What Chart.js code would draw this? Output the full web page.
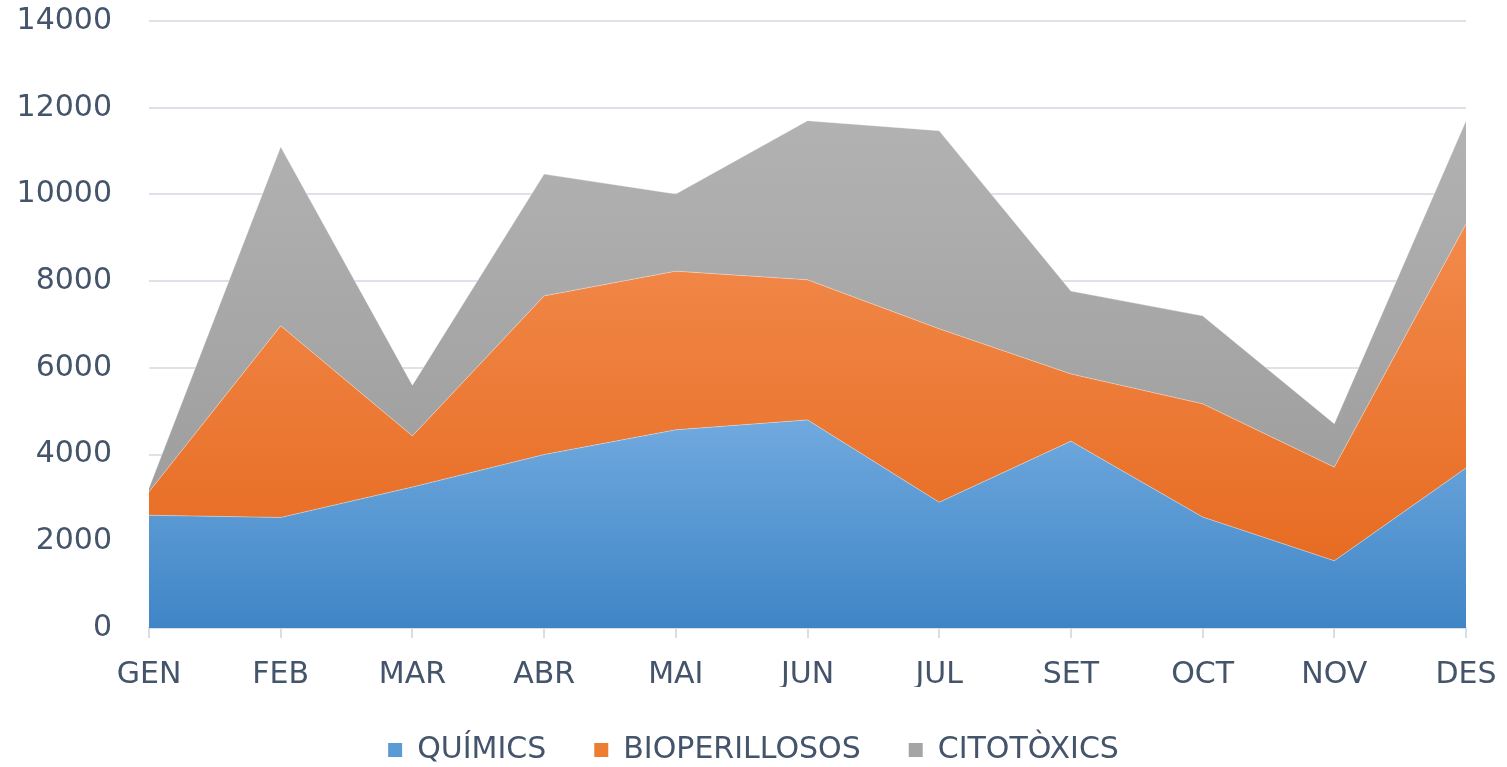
<!DOCTYPE html>
<html>
<head>
<meta charset="utf-8">
<script src="https://cdn.jsdelivr.net/npm/chart.js@4"></script>
<style>
  body { margin: 0; background: #fff; }
  #wrap { width: 1507px; height: 767px; position: relative; }
</style>
</head>
<body>
<div id="wrap"><canvas id="myChart"></canvas></div>
<script>
// dades
var mesos = ["GEN", "FEB", "MAR", "ABR", "MAI", "JUN", "JUL", "SET", "OCT", "NOV", "DES"];
var quimics = [2600, 2550, 3250, 4000, 4570, 4800, 2900, 4310, 2560, 1550, 3690];
var bioperillosos = [540, 4420, 1180, 3660, 3660, 3230, 4000, 1550, 2610, 2160, 5630];
var citotoxics = [90, 4130, 1170, 2810, 1780, 3670, 4570, 1910, 2030, 1000, 2380];
var yTicks = [0, 2000, 4000, 6000, 8000, 10000, 12000, 14000];

var textColor = '#44546a';
var font = "'DejaVu Sans', sans-serif";

// gradient vertical per cada serie (clar a dalt, fosc a baix)
function grad(top, bottom, idx) {
    return function(ctx) {
        var chart = ctx.chart;
        var area = chart.chartArea;
        if (!area) return top;
        var y = chart.scales.y;
        var max = 0;
        for (var i = 0; i < mesos.length; i++) {
            var s = 0;
            for (var d = 0; d <= idx; d++) s += chart.data.datasets[d].data[i];
            if (s > max) max = s;
        }
        var g = chart.ctx.createLinearGradient(0, y.getPixelForValue(max), 0, y.getPixelForValue(0));
        g.addColorStop(0, top);
        g.addColorStop(1, bottom);
        return g;
    };
}

var legendColors = ['#5b9bd5', '#ed7d31', '#a5a5a5'];

new Chart(document.getElementById("myChart").getContext('2d'), {
    type: 'line',
    data: {
        labels: mesos,
        datasets: [{
            label: 'QUÍMICS',
            data: quimics,
            fill: 'origin',
            backgroundColor: grad('#70a9de', '#3f85c6', 0),
            borderColor: 'rgba(255,255,255,0.35)',
            borderWidth: 1,
            pointRadius: 0,
            tension: 0
        }, {
            label: 'BIOPERILLOSOS',
            data: bioperillosos,
            fill: '-1',
            backgroundColor: grad('#f28a4c', '#e5661a', 1),
            borderColor: 'rgba(255,255,255,0.35)',
            borderWidth: 1,
            pointRadius: 0,
            tension: 0
        }, {
            label: 'CITOTÒXICS',
            data: citotoxics,
            fill: '-1',
            backgroundColor: grad('#b2b2b2', '#979797', 2),
            borderColor: 'rgba(255,255,255,0.35)',
            borderWidth: 1,
            pointRadius: 0,
            tension: 0
        }]
    },
    options: {
        responsive: true,
        maintainAspectRatio: false,
        animation: false,
        layout: { padding: { top: 0, right: 0, left: 0, bottom: -8 } },
        plugins: {
            tooltip: { enabled: false },
            legend: {
                position: 'bottom',
                labels: {
                    color: textColor,
                    font: { family: font, size: 30 },
                    boxWidth: 14,
                    boxHeight: 14,
                    padding: 48,
                    generateLabels: function(chart) {
                        return chart.data.datasets.map(function(ds, i) {
                            return {
                                text: ds.label,
                                fillStyle: legendColors[i],
                                strokeStyle: legendColors[i],
                                lineWidth: 0,
                                fontColor: textColor,
                                datasetIndex: i
                            };
                        });
                    }
                }
            }
        },
        scales: {
            x: {
                offset: false,
                afterFit: function(scale) {
                    scale.height = 59;
                    scale.paddingLeft = 0;
                    scale.paddingRight = 41;
                },
                grid: {
                    display: true,
                    drawOnChartArea: false,
                    drawTicks: true,
                    tickLength: 10,
                    color: '#d9dde6',
                    lineWidth: 2
                },
                border: { color: '#d9dde6', width: 2 },
                ticks: {
                    color: textColor,
                    font: { family: font, size: 30 },
                    padding: 19,
                    maxRotation: 0
                }
            },
            y: {
                stacked: true,
                min: 0,
                max: 14000,
                afterBuildTicks: function(scale) {
                    scale.ticks = yTicks.map(function(v) { return { value: v }; });
                },
                afterFit: function(scale) {
                    scale.width = 149;
                    scale.paddingTop = 21;
                    scale.paddingBottom = 0;
                },
                grid: {
                    color: '#dde2ea',
                    lineWidth: 2,
                    drawTicks: false
                },
                border: { display: false },
                ticks: {
                    color: textColor,
                    font: { family: font, size: 30 },
                    padding: 37,
                    callback: function(v) { return String(v); }
                }
            }
        }
    }
});
</script>
</body>
</html>
